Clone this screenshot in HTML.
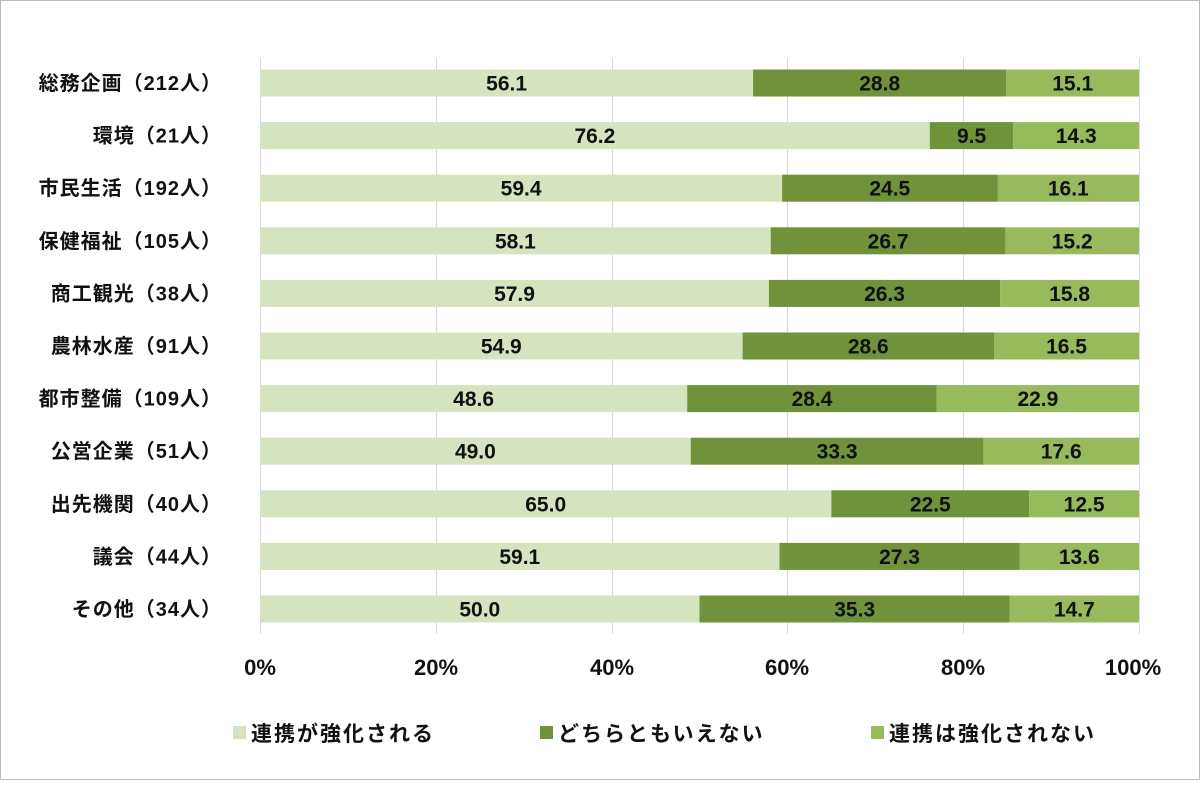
<!DOCTYPE html>
<html><head><meta charset="utf-8"><style>
body{margin:0;background:#fff}
svg text{font-family:"Liberation Sans","Noto Sans CJK JP",sans-serif;fill:#111;font-weight:bold}
.a{fill:#d5e3bf}.b{fill:#6f923b}.c{fill:#97ba5d}
</style></head><body>
<svg width="1200" height="780" viewBox="0 0 1200 780" xmlns="http://www.w3.org/2000/svg">
<rect x="0.5" y="0.5" width="1199" height="779" fill="#fff" stroke="#bdbdbd"/>
<g stroke="#d9d9d9" stroke-width="1">
<line x1="260.5" y1="58" x2="260.5" y2="634"/><line x1="436.5" y1="58" x2="436.5" y2="634"/><line x1="612.5" y1="58" x2="612.5" y2="634"/><line x1="787.5" y1="58" x2="787.5" y2="634"/><line x1="963.5" y1="58" x2="963.5" y2="634"/><line x1="1139.5" y1="58" x2="1139.5" y2="634"/>
</g>
<g>
<rect class="a" x="260" y="69.5" width="493.1" height="27"/><rect class="b" x="753.1" y="69.5" width="253.2" height="27"/><rect class="c" x="1006.3" y="69.5" width="132.7" height="27"/>
<rect class="a" x="260" y="122.1" width="669.8" height="27"/><rect class="b" x="929.8" y="122.1" width="83.5" height="27"/><rect class="c" x="1013.3" y="122.1" width="125.7" height="27"/>
<rect class="a" x="260" y="174.7" width="522.1" height="27"/><rect class="b" x="782.1" y="174.7" width="215.4" height="27"/><rect class="c" x="997.5" y="174.7" width="141.5" height="27"/>
<rect class="a" x="260" y="227.3" width="510.7" height="27"/><rect class="b" x="770.7" y="227.3" width="234.7" height="27"/><rect class="c" x="1005.4" y="227.3" width="133.6" height="27"/>
<rect class="a" x="260" y="279.9" width="508.9" height="27"/><rect class="b" x="768.9" y="279.9" width="231.2" height="27"/><rect class="c" x="1000.1" y="279.9" width="138.9" height="27"/>
<rect class="a" x="260" y="332.5" width="482.6" height="27"/><rect class="b" x="742.6" y="332.5" width="251.4" height="27"/><rect class="c" x="994" y="332.5" width="145" height="27"/>
<rect class="a" x="260" y="385.1" width="427.2" height="27"/><rect class="b" x="687.2" y="385.1" width="249.6" height="27"/><rect class="c" x="936.8" y="385.1" width="202.2" height="27"/>
<rect class="a" x="260" y="437.7" width="430.7" height="27"/><rect class="b" x="690.7" y="437.7" width="292.7" height="27"/><rect class="c" x="983.4" y="437.7" width="155.6" height="27"/>
<rect class="a" x="260" y="490.3" width="571.4" height="27"/><rect class="b" x="831.4" y="490.3" width="197.8" height="27"/><rect class="c" x="1029.2" y="490.3" width="109.8" height="27"/>
<rect class="a" x="260" y="542.9" width="519.5" height="27"/><rect class="b" x="779.5" y="542.9" width="240" height="27"/><rect class="c" x="1019.5" y="542.9" width="119.5" height="27"/>
<rect class="a" x="260" y="595.5" width="439.5" height="27"/><rect class="b" x="699.5" y="595.5" width="310.3" height="27"/><rect class="c" x="1009.8" y="595.5" width="129.2" height="27"/>
</g>
<g font-size="20" text-anchor="end" letter-spacing="1">
<text x="222" y="90">総務企画（212人）</text>
<text x="222" y="142.6">環境（21人）</text>
<text x="222" y="195.2">市民生活（192人）</text>
<text x="222" y="247.8">保健福祉（105人）</text>
<text x="222" y="300.4">商工観光（38人）</text>
<text x="222" y="353">農林水産（91人）</text>
<text x="222" y="405.6">都市整備（109人）</text>
<text x="222" y="458.2">公営企業（51人）</text>
<text x="222" y="510.8">出先機関（40人）</text>
<text x="222" y="563.4">議会（44人）</text>
<text x="222" y="616">その他（34人）</text>
</g>
<g font-size="21" text-anchor="middle">
<text x="506.6" y="90.5">56.1</text><text x="879.7" y="90.5">28.8</text><text x="1072.7" y="90.5">15.1</text>
<text x="594.9" y="143.1">76.2</text><text x="971.6" y="143.1">9.5</text><text x="1076.2" y="143.1">14.3</text>
<text x="521.1" y="195.7">59.4</text><text x="889.8" y="195.7">24.5</text><text x="1068.3" y="195.7">16.1</text>
<text x="515.4" y="248.3">58.1</text><text x="888.1" y="248.3">26.7</text><text x="1072.2" y="248.3">15.2</text>
<text x="514.5" y="300.9">57.9</text><text x="884.5" y="300.9">26.3</text><text x="1069.6" y="300.9">15.8</text>
<text x="501.3" y="353.5">54.9</text><text x="868.3" y="353.5">28.6</text><text x="1066.5" y="353.5">16.5</text>
<text x="473.6" y="406.1">48.6</text><text x="812" y="406.1">28.4</text><text x="1037.9" y="406.1">22.9</text>
<text x="475.4" y="458.7">49.0</text><text x="837.1" y="458.7">33.3</text><text x="1061.2" y="458.7">17.6</text>
<text x="545.7" y="511.3">65.0</text><text x="930.3" y="511.3">22.5</text><text x="1084.1" y="511.3">12.5</text>
<text x="519.8" y="563.9">59.1</text><text x="899.5" y="563.9">27.3</text><text x="1079.3" y="563.9">13.6</text>
<text x="479.8" y="616.5">50.0</text><text x="854.7" y="616.5">35.3</text><text x="1074.4" y="616.5">14.7</text>
</g>
<g font-size="22" text-anchor="middle">
<text x="260" y="675">0%</text><text x="436" y="675">20%</text><text x="612" y="675">40%</text><text x="787" y="675">60%</text><text x="963" y="675">80%</text><text x="1133" y="675">100%</text>
</g>
<g font-size="21" letter-spacing="2">
<rect x="233" y="726" width="13" height="13" fill="#d5e3bf"/>
<text x="251" y="741">連携が強化される</text>
<rect x="540" y="726" width="13" height="13" fill="#6f923b"/>
<text x="558" y="741">どちらともいえない</text>
<rect x="871" y="726" width="13" height="13" fill="#97ba5d"/>
<text x="889" y="741">連携は強化されない</text>
</g>
</svg>
</body></html>
